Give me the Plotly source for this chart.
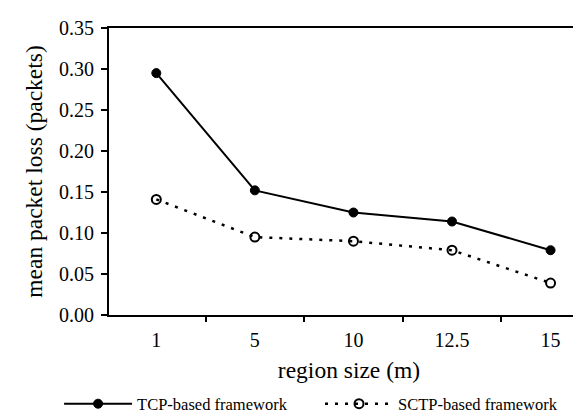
import plotly.graph_objects as go

regions = ["1", "5", "10", "12.5", "15"]
tcp_loss = [0.295, 0.152, 0.125, 0.114, 0.079]
sctp_loss = [0.141, 0.095, 0.090, 0.079, 0.039]
y_ticks = [0.00, 0.05, 0.10, 0.15, 0.20, 0.25, 0.30, 0.35]
y_ticklabels = ["0.00", "0.05", "0.10", "0.15", "0.20", "0.25", "0.30", "0.35"]

FONT = "Liberation Serif"

fig = go.Figure()
fig.add_trace(go.Scatter(
    x=regions, y=tcp_loss, name="TCP-based framework",
    mode="lines+markers", legend="legend",
    line=dict(color="black", width=2),
    marker=dict(symbol="circle", size=9, color="black", line=dict(color="black", width=1)),
))
fig.add_trace(go.Scatter(
    x=regions, y=sctp_loss, name="SCTP-based framework",
    mode="lines+markers", legend="legend2",
    line=dict(color="black", width=2.5, dash="3px,7px"),
    marker=dict(symbol="circle-open", size=9, color="black", line=dict(color="black", width=2)),
))

leg_common = dict(
    orientation="h", xanchor="left", y=-0.31, yanchor="middle",
    font=dict(family=FONT, size=16.5, color="black"),
    itemwidth=68, bgcolor="rgba(0,0,0,0)",
)

fig.update_layout(
    width=581, height=414,
    margin=dict(l=101, r=0, t=20, b=98),
    paper_bgcolor="white", plot_bgcolor="white",
    font=dict(family=FONT, color="black", size=20),
    showlegend=True,
    legend=dict(x=-0.104, **leg_common),
    legend2=dict(x=0.4396, **leg_common),
)
fig.update_xaxes(
    type="category", range=[-0.48, 4.39],
    tickson="boundaries", ticks="outside", ticklen=5, tickwidth=1.5, tickcolor="black",
    showline=True, linecolor="black", linewidth=2, mirror=True,
    showgrid=False, zeroline=False,
    tickfont=dict(family=FONT, size=20, color="black"),
    ticklabelstandoff=6,
    title=dict(text="region size (m)", font=dict(family=FONT, size=23.5, color="black"), standoff=12),
)
fig.update_yaxes(
    range=[0, 0.35], tickvals=y_ticks, ticktext=y_ticklabels,
    ticks="outside", ticklen=6, tickwidth=1.5, tickcolor="black",
    showline=True, linecolor="black", linewidth=2,
    showgrid=False, zeroline=False,
    tickfont=dict(family=FONT, size=20, color="black"),
    ticklabelstandoff=3,
    title=dict(text="mean packet loss (packets)", font=dict(family=FONT, size=23.5, color="black"), standoff=10),
)

fig.write_html("out.html")
